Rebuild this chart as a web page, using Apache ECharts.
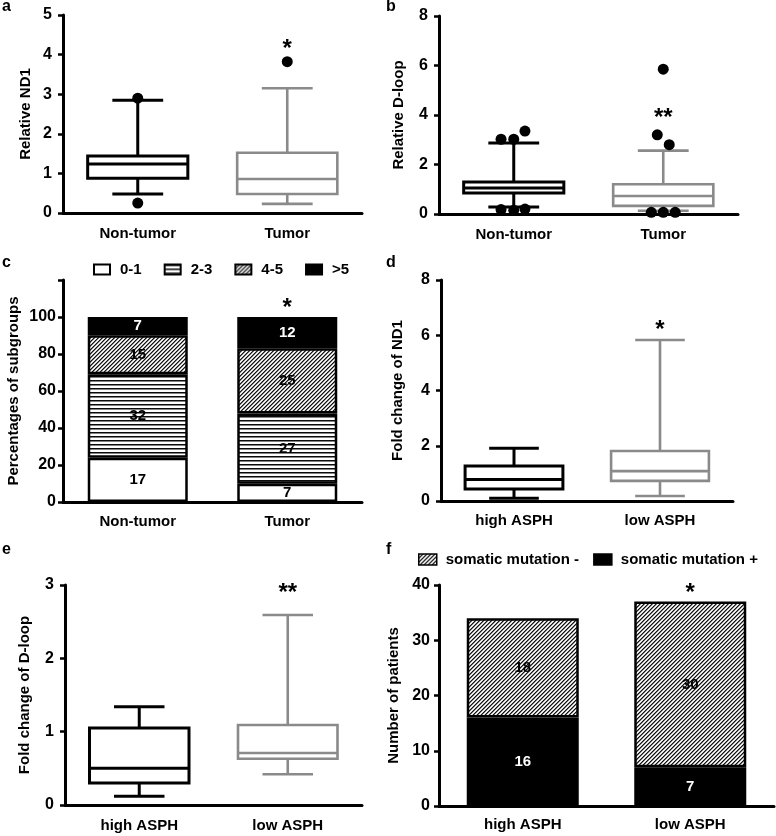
<!DOCTYPE html>
<html><head><meta charset="utf-8">
<script src="https://cdn.jsdelivr.net/npm/echarts@6/dist/echarts.min.js"></script>
<style>html,body{margin:0;padding:0;background:#fff}#c{width:776px;height:836px}</style>
</head><body><div id="c"></div>
<script>
// ---------- data ----------
const tumorCats = ['Non-tumor', 'Tumor'];
const asphCats = ['high ASPH', 'low ASPH'];
// box stats: [min, Q1, median, Q3, max]
const nd1Box = [[0.48, 0.88, 1.24, 1.44, 2.85], [0.23, 0.48, 0.86, 1.52, 3.15]];
const nd1Outliers = [[0, 2.9], [0, 0.25], [1, 3.82]];
const dloopBox = [[0.28, 0.85, 1.05, 1.29, 2.87], [0.13, 0.33, 0.73, 1.2, 2.56]];
const dloopOutliers = [[-0.085, 3.02], [0, 3.02], [0.075, 3.35], [-0.085, 0.18], [0, 0.15], [0.075, 0.2],
  [0.96, 3.2], [1.04, 2.8], [1, 5.85], [0.92, 0.07], [1, 0.07], [1.08, 0.07]];
const subgroupNames = ['0-1', '2-3', '4-5', '>5'];
const subgroupCountsNonTumor = [17, 32, 15, 7];
const subgroupCountsTumor = [7, 27, 25, 12];
const subgroupPctNonTumor = [23.9, 45.1, 21.1, 9.9];
const subgroupPctTumor = [9.9, 38.0, 35.2, 16.9];
const nd1FoldBox = [[0.1, 0.43, 0.78, 1.27, 1.91], [0.18, 0.73, 1.08, 1.81, 5.83]];
const dloopFoldBox = [[0.12, 0.30, 0.50, 1.05, 1.34], [0.42, 0.63, 0.71, 1.09, 2.59]];
const mutationNames = ['somatic mutation -', 'somatic mutation +'];
const mutationNeg = [18, 30];
const mutationPos = [16, 7];
// significance marks: [category, y]
const starA = [[1, 4.29]], starB = [[1, 4.12]], starC = [[1, 108]];
const starD = [[1, 6.38]], starE = [[1, 2.97]], starF = [[1, 39.6]];

// ---------- styles ----------
const FONT = '"Liberation Sans", Arial, Helvetica, sans-serif';
const GRAY = '#8a8a8a';
const boxColors = ['#000', GRAY];

function makePattern(fn) {
  const c = document.createElement('canvas');
  c.width = 4; c.height = 4;
  const ctx = c.getContext('2d');
  const img = ctx.createImageData(4, 4);
  for (let y = 0; y < 4; y++) for (let x = 0; x < 4; x++) {
    const v = fn(x, y); const i = (y * 4 + x) * 4;
    img.data[i] = img.data[i + 1] = img.data[i + 2] = v; img.data[i + 3] = 255;
  }
  ctx.putImageData(img, 0, 0);
  return { image: c, repeat: 'repeat' };
}
const stripes = makePattern((x, y) => [10, 130, 255, 255][y]);
const hatch = makePattern((x, y) => [120, 255, 210, 20][(x + y) % 4]);

const grids = [
  { left: 63, top: 15, width: 299, height: 198 },
  { left: 439, top: 16, width: 299, height: 198 },
  { left: 63, top: 280, width: 299, height: 222 },
  { left: 441, top: 280, width: 292, height: 221 },
  { left: 65, top: 585, width: 297, height: 220 },
  { left: 439, top: 585, width: 335, height: 221 }
];

function catAxis(g, cats, margin) {
  return {
    type: 'category', gridIndex: g, data: cats,
    axisLine: { onZero: false, lineStyle: { color: '#000', width: 3 } },
    axisTick: { alignWithLabel: true, length: 6, lineStyle: { color: '#000', width: 2.5 } },
    axisLabel: { color: '#000', fontFamily: FONT, fontWeight: 'bold', fontSize: 15, margin: margin }
  };
}
function hidValAxis(g) {
  return { type: 'value', gridIndex: g, min: -0.5, max: 1.5, show: false };
}
function valAxis(g, max, interval, name, gap, labelMargin, hideTop) {
  return {
    type: 'value', gridIndex: g, min: 0, max: max, interval: interval,
    name: name, nameLocation: 'middle', nameGap: gap, nameRotate: 90,
    nameTextStyle: { color: '#000', fontFamily: FONT, fontWeight: 'bold', fontSize: 15 },
    splitLine: { show: false },
    axisLine: { show: true, onZero: false, lineStyle: { color: '#000', width: 3 } },
    axisTick: { show: true, length: 5, lineStyle: { color: '#000', width: 2.5 } },
    axisLabel: {
      color: '#000', fontFamily: FONT, fontWeight: 'bold', fontSize: 16, margin: labelMargin,
      formatter: v => (hideTop && v === max) ? '' : String(v)
    }
  };
}

function boxSeries(xi, yi, stats) {
  return {
    type: 'custom', xAxisIndex: xi, yAxisIndex: yi,
    encode: { x: 0, y: [1, 2, 3, 4, 5] },
    data: stats.map((s, i) => [i].concat(s)),
    renderItem: function (params, api) {
      const ci = api.value(0);
      const mn = api.coord([ci, api.value(1)]);
      const q1 = api.coord([ci, api.value(2)]);
      const md = api.coord([ci, api.value(3)]);
      const q3 = api.coord([ci, api.value(4)]);
      const mx = api.coord([ci, api.value(5)]);
      const band = api.size([1, 0])[0];
      const hw = band * 0.335, cw = band * 0.17, x = mn[0];
      const col = boxColors[params.dataIndex];
      const lw = params.dataIndex === 0 ? 3 : 2.6;
      const st = { stroke: col, lineWidth: lw, fill: null };
      return {
        type: 'group', children: [
          { type: 'line', shape: { x1: x, y1: mx[1], x2: x, y2: q3[1] }, style: st },
          { type: 'line', shape: { x1: x, y1: q1[1], x2: x, y2: mn[1] }, style: st },
          { type: 'line', shape: { x1: x - cw, y1: mx[1], x2: x + cw, y2: mx[1] }, style: st },
          { type: 'line', shape: { x1: x - cw, y1: mn[1], x2: x + cw, y2: mn[1] }, style: st },
          { type: 'rect', shape: { x: x - hw, y: q3[1], width: 2 * hw, height: q1[1] - q3[1] }, style: { stroke: col, lineWidth: lw, fill: '#fff' } },
          { type: 'line', shape: { x1: x - hw, y1: md[1], x2: x + hw, y2: md[1] }, style: st }
        ]
      };
    }
  };
}
function dotSeries(xi, yi, pts) {
  return { type: 'scatter', xAxisIndex: xi, yAxisIndex: yi, data: pts, symbol: 'circle', symbolSize: 11,
    itemStyle: { color: '#000', opacity: 1 }, z: 5, silent: true };
}
function starSeries(xi, yi, pts, txt) {
  return { type: 'scatter', xAxisIndex: xi, yAxisIndex: yi, data: pts, symbolSize: 2,
    itemStyle: { color: 'rgba(0,0,0,0)', opacity: 1 }, silent: true, z: 6,
    label: { show: true, position: 'inside', formatter: txt, color: '#000', fontFamily: FONT,
      fontWeight: 'bold', fontSize: 24, offset: [0, 6] } };
}

const segFills = ['#fff', stripes, hatch, '#000'];
const cSeries = subgroupNames.map((n, i) => ({
  name: n, type: 'bar', stack: 'sub', xAxisIndex: 2, yAxisIndex: 2, barWidth: 100,
  data: [subgroupPctNonTumor[i], subgroupPctTumor[i]],
  itemStyle: { color: segFills[i], borderColor: '#000', borderWidth: 2.5 },
  label: { show: true, position: 'inside', fontFamily: FONT, fontWeight: 'bold', fontSize: 15,
    color: i === 3 ? '#fff' : '#000',
    formatter: p => String([subgroupCountsNonTumor, subgroupCountsTumor][p.dataIndex][i]) }
}));
const fSeries = [
  { name: mutationNames[1], type: 'bar', stack: 'mut', xAxisIndex: 5, yAxisIndex: 5, barWidth: 112,
    data: mutationPos, itemStyle: { color: '#000', borderColor: '#000', borderWidth: 2.5 },
    label: { show: true, position: 'inside', fontFamily: FONT, fontWeight: 'bold', fontSize: 15, color: '#fff' } },
  { name: mutationNames[0], type: 'bar', stack: 'mut', xAxisIndex: 5, yAxisIndex: 5, barWidth: 112,
    data: mutationNeg, itemStyle: { color: hatch, borderColor: '#000', borderWidth: 2.5 },
    label: { show: true, position: 'inside', fontFamily: FONT, fontWeight: 'bold', fontSize: 15, color: '#000' } }
];

const letters = [['a', 2, 7.5], ['b', 386, 7.5], ['c', 2, 263.5], ['d', 386, 263.5], ['e', 2, 551], ['f', 386, 551]];

const option = {
  backgroundColor: '#fff',
  animation: false,
  grid: grids.map(g => Object.assign({ outerBoundsMode: 'none', containLabel: false }, g)),
  xAxis: [
    catAxis(0, tumorCats, 13), catAxis(1, tumorCats, 13), catAxis(2, tumorCats, 12),
    catAxis(3, asphCats, 12), catAxis(4, asphCats, 13), catAxis(5, asphCats, 11),
    hidValAxis(0), hidValAxis(1), hidValAxis(2), hidValAxis(3), hidValAxis(4), hidValAxis(5)
  ],
  yAxis: [
    valAxis(0, 5, 1, 'Relative ND1', 30, 11),
    valAxis(1, 8, 2, 'Relative D-loop', 33, 11),
    valAxis(2, 120, 20, 'Percentages of subgroups', 42, 7, true),
    valAxis(3, 8, 2, 'Fold change of ND1', 36, 11),
    valAxis(4, 3, 1, 'Fold change of D-loop', 33, 11),
    valAxis(5, 40, 10, 'Number of patients', 38, 9)
  ],
  legend: [
    { data: subgroupNames, left: 93, top: 262, itemWidth: 16, itemHeight: 10, itemGap: 22, padding: 0,
      icon: 'rect', itemStyle: { borderColor: '#000', borderWidth: 2 },
      textStyle: { color: '#000', fontFamily: FONT, fontWeight: 'bold', fontSize: 15, padding: [0, 0, 0, 5] } },
    { data: mutationNames, left: 418, top: 552, itemWidth: 18, itemHeight: 11, itemGap: 14, padding: 0,
      icon: 'rect', itemStyle: { borderColor: '#000', borderWidth: 1.5 },
      textStyle: { color: '#000', fontFamily: FONT, fontWeight: 'bold', fontSize: 15, padding: [0, 0, 0, 4] } }
  ],
  graphic: letters.map(l => ({ type: 'text', left: l[1], top: l[2] - 9,
    style: { text: l[0], fill: '#000', font: 'bold 16px ' + FONT } })),
  series: [
    boxSeries(0, 0, nd1Box), dotSeries(6, 0, nd1Outliers), starSeries(6, 0, starA, '*'),
    boxSeries(1, 1, dloopBox), dotSeries(7, 1, dloopOutliers), starSeries(7, 1, starB, '**'),
    ...cSeries, starSeries(8, 2, starC, '*'),
    boxSeries(3, 3, nd1FoldBox), starSeries(9, 3, starD, '*'),
    boxSeries(4, 4, dloopFoldBox), starSeries(10, 4, starE, '**'),
    ...fSeries, starSeries(11, 5, starF, '*')
  ]
};
const chart = echarts.init(document.getElementById('c'), null, { renderer: 'canvas' });
chart.setOption(option);
</script></body></html>
